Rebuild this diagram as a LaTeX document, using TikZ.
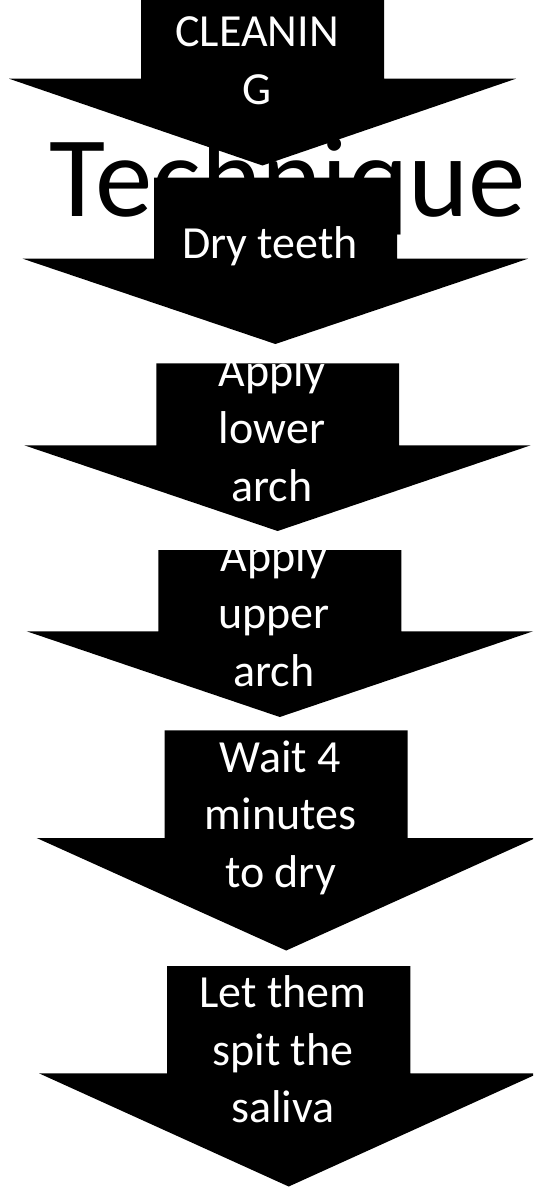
\documentclass[tikz,border=0pt]{standalone}
\usepackage{fontspec}
\newfontfamily\carlito{Carlito}
\tikzset{
  blockarrow/.style={fill=black, draw=none},
  steptext/.style={text=white, font=\carlito\fontsize{46}{57.5}\selectfont, inner sep=0pt, anchor=base},
  titletext/.style={text=black, font=\carlito\fontsize{115}{138}\selectfont, inner sep=0pt, anchor=base west}
}
% #1 rect left, #2 rect right, #3 rect top, #4 head base, #5 head left, #6 head right, #7 tip x, #8 tip y
\newcommand\arrowpath[8]{\fill[blockarrow] (#1,#3) -- (#2,#3) -- (#2,#4) -- (#6,#4) -- (#7,#8) -- (#5,#4) -- (#1,#4) -- cycle;}
\newcommand\steprows[1]{\begin{tabular}[t]{@{}c@{}}#1\end{tabular}}
\begin{document}
\begin{tikzpicture}[x=1pt,y=-1pt]
\useasboundingbox (0,0) rectangle (533,1188);
\clip (0,0) rectangle (533,1188);
\fill[white] (0,0) rectangle (533,1188);

% arrow 1
\arrowpath{141}{384}{-5}{78.7}{9}{516}{262.5}{165.5}
\node[steptext] (s1) at (257,46.7) {\steprows{CLEANIN\\G}};

% title
\node[titletext] (title) at (49,216.7) {Technique};

% arrow 2
\arrowpath{154}{397}{177.7}{258.7}{22.7}{528}{275.4}{344}
\node[steptext] (s2) at (270,258.3) {\steprows{Dry teeth}};

% arrow 3
\arrowpath{156.3}{399}{363.3}{445.3}{24.3}{530.7}{277.6}{531}
\node[steptext] (s3) at (272,386) {\steprows{Apply\\lower\\arch}};

% arrow 4
\arrowpath{158.3}{401.3}{550}{631.3}{26.7}{533}{279.8}{717}
\node[steptext] (s4) at (274,571) {\steprows{Apply\\upper\\arch}};

% arrow 5
\arrowpath{164.7}{407.7}{730.3}{838}{36.7}{535.7}{286.2}{950.5}
\node[steptext] (s5) at (280.5,772) {\steprows{Wait 4\\minutes\\to dry}};

% arrow 6
\arrowpath{167}{410.3}{966}{1073.3}{39}{538.4}{288.7}{1186.5}
\node[steptext] (s6) at (283,1007.5) {\steprows{Let them\\spit the\\saliva}};
\end{tikzpicture}
\end{document}
